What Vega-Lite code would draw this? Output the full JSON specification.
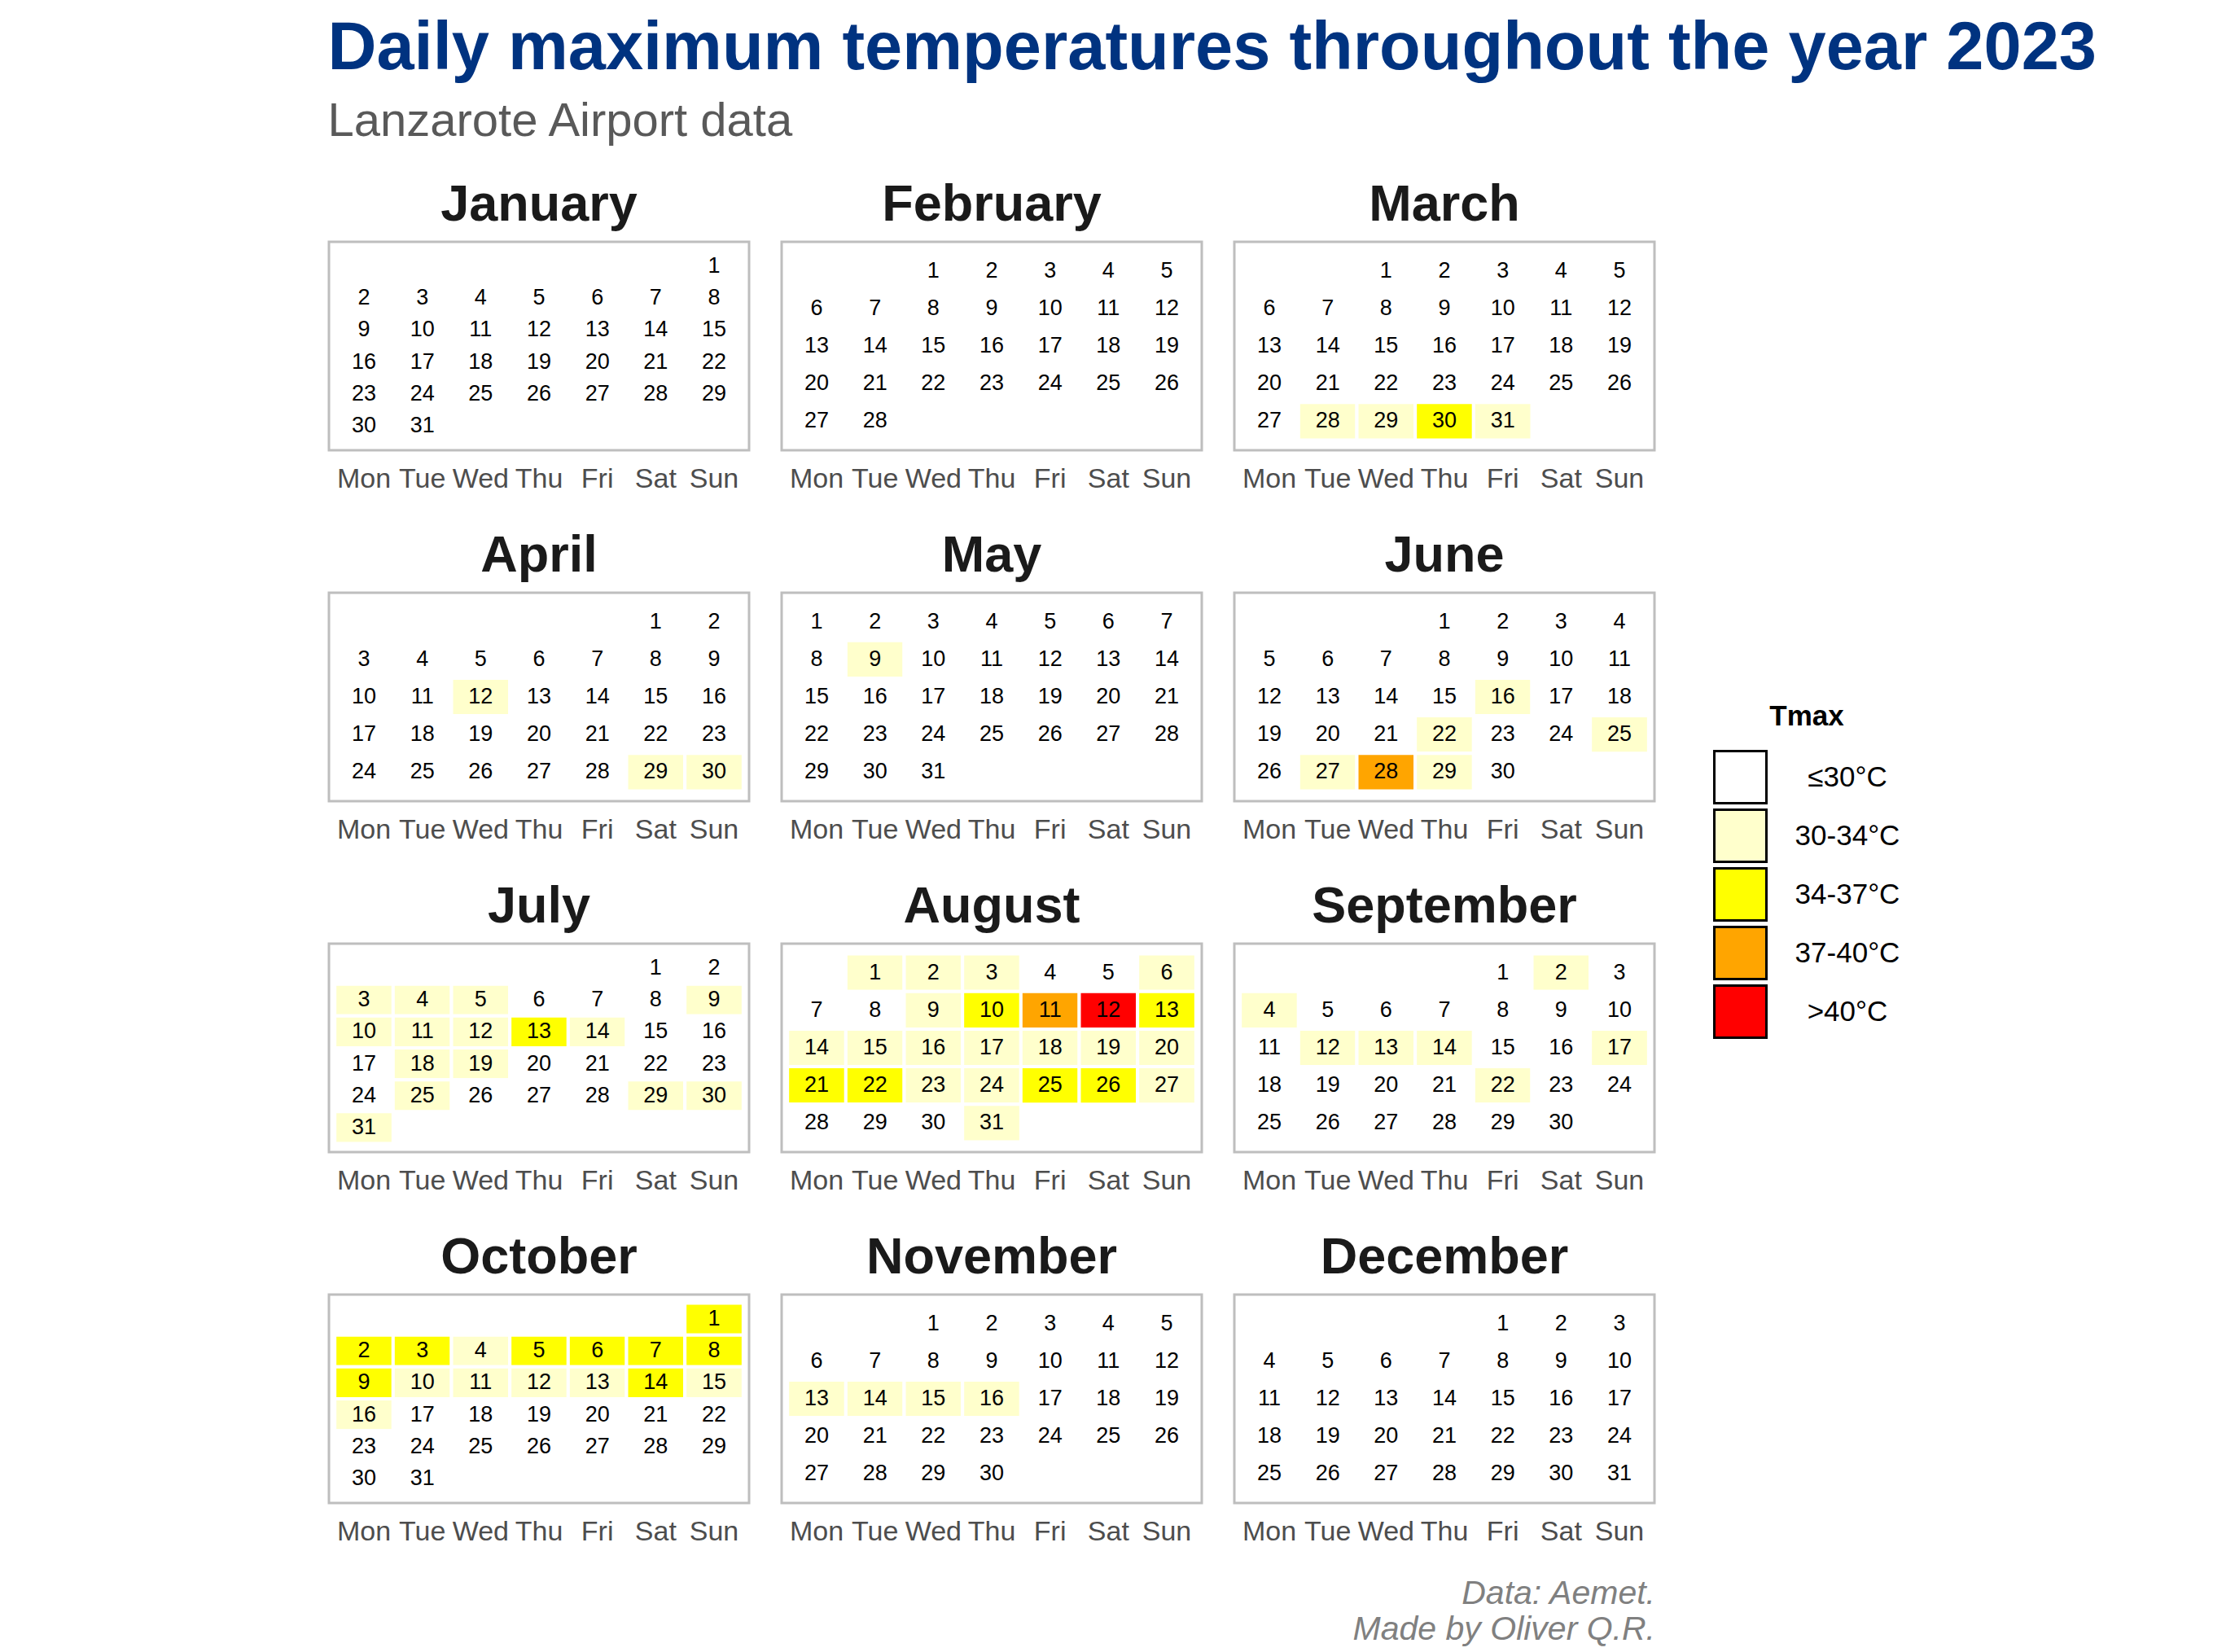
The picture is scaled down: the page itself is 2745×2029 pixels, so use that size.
{
"$schema":"https://vega.github.io/schema/vega-lite/v6.json",
"background":"white",
"padding":{"left":402,"top":18,"right":0,"bottom":0},
"title":{"text":"Daily maximum temperatures throughout the year 2023","subtitle":"Lanzarote Airport data","anchor":"start","fontSize":83,"fontWeight":"bold","color":"#003380","font":"Liberation Sans","subtitleFont":"Liberation Sans","subtitleFontSize":58,"subtitleColor":"#595959","subtitlePadding":19,"offset":41},
"datasets":{"cal":[
{"m":"January","d":1,"w":"Sun","r":1,"c":"≤30°C"},
{"m":"January","d":2,"w":"Mon","r":2,"c":"≤30°C"},
{"m":"January","d":3,"w":"Tue","r":2,"c":"≤30°C"},
{"m":"January","d":4,"w":"Wed","r":2,"c":"≤30°C"},
{"m":"January","d":5,"w":"Thu","r":2,"c":"≤30°C"},
{"m":"January","d":6,"w":"Fri","r":2,"c":"≤30°C"},
{"m":"January","d":7,"w":"Sat","r":2,"c":"≤30°C"},
{"m":"January","d":8,"w":"Sun","r":2,"c":"≤30°C"},
{"m":"January","d":9,"w":"Mon","r":3,"c":"≤30°C"},
{"m":"January","d":10,"w":"Tue","r":3,"c":"≤30°C"},
{"m":"January","d":11,"w":"Wed","r":3,"c":"≤30°C"},
{"m":"January","d":12,"w":"Thu","r":3,"c":"≤30°C"},
{"m":"January","d":13,"w":"Fri","r":3,"c":"≤30°C"},
{"m":"January","d":14,"w":"Sat","r":3,"c":"≤30°C"},
{"m":"January","d":15,"w":"Sun","r":3,"c":"≤30°C"},
{"m":"January","d":16,"w":"Mon","r":4,"c":"≤30°C"},
{"m":"January","d":17,"w":"Tue","r":4,"c":"≤30°C"},
{"m":"January","d":18,"w":"Wed","r":4,"c":"≤30°C"},
{"m":"January","d":19,"w":"Thu","r":4,"c":"≤30°C"},
{"m":"January","d":20,"w":"Fri","r":4,"c":"≤30°C"},
{"m":"January","d":21,"w":"Sat","r":4,"c":"≤30°C"},
{"m":"January","d":22,"w":"Sun","r":4,"c":"≤30°C"},
{"m":"January","d":23,"w":"Mon","r":5,"c":"≤30°C"},
{"m":"January","d":24,"w":"Tue","r":5,"c":"≤30°C"},
{"m":"January","d":25,"w":"Wed","r":5,"c":"≤30°C"},
{"m":"January","d":26,"w":"Thu","r":5,"c":"≤30°C"},
{"m":"January","d":27,"w":"Fri","r":5,"c":"≤30°C"},
{"m":"January","d":28,"w":"Sat","r":5,"c":"≤30°C"},
{"m":"January","d":29,"w":"Sun","r":5,"c":"≤30°C"},
{"m":"January","d":30,"w":"Mon","r":6,"c":"≤30°C"},
{"m":"January","d":31,"w":"Tue","r":6,"c":"≤30°C"},
{"m":"February","d":1,"w":"Wed","r":1,"c":"≤30°C"},
{"m":"February","d":2,"w":"Thu","r":1,"c":"≤30°C"},
{"m":"February","d":3,"w":"Fri","r":1,"c":"≤30°C"},
{"m":"February","d":4,"w":"Sat","r":1,"c":"≤30°C"},
{"m":"February","d":5,"w":"Sun","r":1,"c":"≤30°C"},
{"m":"February","d":6,"w":"Mon","r":2,"c":"≤30°C"},
{"m":"February","d":7,"w":"Tue","r":2,"c":"≤30°C"},
{"m":"February","d":8,"w":"Wed","r":2,"c":"≤30°C"},
{"m":"February","d":9,"w":"Thu","r":2,"c":"≤30°C"},
{"m":"February","d":10,"w":"Fri","r":2,"c":"≤30°C"},
{"m":"February","d":11,"w":"Sat","r":2,"c":"≤30°C"},
{"m":"February","d":12,"w":"Sun","r":2,"c":"≤30°C"},
{"m":"February","d":13,"w":"Mon","r":3,"c":"≤30°C"},
{"m":"February","d":14,"w":"Tue","r":3,"c":"≤30°C"},
{"m":"February","d":15,"w":"Wed","r":3,"c":"≤30°C"},
{"m":"February","d":16,"w":"Thu","r":3,"c":"≤30°C"},
{"m":"February","d":17,"w":"Fri","r":3,"c":"≤30°C"},
{"m":"February","d":18,"w":"Sat","r":3,"c":"≤30°C"},
{"m":"February","d":19,"w":"Sun","r":3,"c":"≤30°C"},
{"m":"February","d":20,"w":"Mon","r":4,"c":"≤30°C"},
{"m":"February","d":21,"w":"Tue","r":4,"c":"≤30°C"},
{"m":"February","d":22,"w":"Wed","r":4,"c":"≤30°C"},
{"m":"February","d":23,"w":"Thu","r":4,"c":"≤30°C"},
{"m":"February","d":24,"w":"Fri","r":4,"c":"≤30°C"},
{"m":"February","d":25,"w":"Sat","r":4,"c":"≤30°C"},
{"m":"February","d":26,"w":"Sun","r":4,"c":"≤30°C"},
{"m":"February","d":27,"w":"Mon","r":5,"c":"≤30°C"},
{"m":"February","d":28,"w":"Tue","r":5,"c":"≤30°C"},
{"m":"March","d":1,"w":"Wed","r":1,"c":"≤30°C"},
{"m":"March","d":2,"w":"Thu","r":1,"c":"≤30°C"},
{"m":"March","d":3,"w":"Fri","r":1,"c":"≤30°C"},
{"m":"March","d":4,"w":"Sat","r":1,"c":"≤30°C"},
{"m":"March","d":5,"w":"Sun","r":1,"c":"≤30°C"},
{"m":"March","d":6,"w":"Mon","r":2,"c":"≤30°C"},
{"m":"March","d":7,"w":"Tue","r":2,"c":"≤30°C"},
{"m":"March","d":8,"w":"Wed","r":2,"c":"≤30°C"},
{"m":"March","d":9,"w":"Thu","r":2,"c":"≤30°C"},
{"m":"March","d":10,"w":"Fri","r":2,"c":"≤30°C"},
{"m":"March","d":11,"w":"Sat","r":2,"c":"≤30°C"},
{"m":"March","d":12,"w":"Sun","r":2,"c":"≤30°C"},
{"m":"March","d":13,"w":"Mon","r":3,"c":"≤30°C"},
{"m":"March","d":14,"w":"Tue","r":3,"c":"≤30°C"},
{"m":"March","d":15,"w":"Wed","r":3,"c":"≤30°C"},
{"m":"March","d":16,"w":"Thu","r":3,"c":"≤30°C"},
{"m":"March","d":17,"w":"Fri","r":3,"c":"≤30°C"},
{"m":"March","d":18,"w":"Sat","r":3,"c":"≤30°C"},
{"m":"March","d":19,"w":"Sun","r":3,"c":"≤30°C"},
{"m":"March","d":20,"w":"Mon","r":4,"c":"≤30°C"},
{"m":"March","d":21,"w":"Tue","r":4,"c":"≤30°C"},
{"m":"March","d":22,"w":"Wed","r":4,"c":"≤30°C"},
{"m":"March","d":23,"w":"Thu","r":4,"c":"≤30°C"},
{"m":"March","d":24,"w":"Fri","r":4,"c":"≤30°C"},
{"m":"March","d":25,"w":"Sat","r":4,"c":"≤30°C"},
{"m":"March","d":26,"w":"Sun","r":4,"c":"≤30°C"},
{"m":"March","d":27,"w":"Mon","r":5,"c":"≤30°C"},
{"m":"March","d":28,"w":"Tue","r":5,"c":"30-34°C"},
{"m":"March","d":29,"w":"Wed","r":5,"c":"30-34°C"},
{"m":"March","d":30,"w":"Thu","r":5,"c":"34-37°C"},
{"m":"March","d":31,"w":"Fri","r":5,"c":"30-34°C"},
{"m":"April","d":1,"w":"Sat","r":1,"c":"≤30°C"},
{"m":"April","d":2,"w":"Sun","r":1,"c":"≤30°C"},
{"m":"April","d":3,"w":"Mon","r":2,"c":"≤30°C"},
{"m":"April","d":4,"w":"Tue","r":2,"c":"≤30°C"},
{"m":"April","d":5,"w":"Wed","r":2,"c":"≤30°C"},
{"m":"April","d":6,"w":"Thu","r":2,"c":"≤30°C"},
{"m":"April","d":7,"w":"Fri","r":2,"c":"≤30°C"},
{"m":"April","d":8,"w":"Sat","r":2,"c":"≤30°C"},
{"m":"April","d":9,"w":"Sun","r":2,"c":"≤30°C"},
{"m":"April","d":10,"w":"Mon","r":3,"c":"≤30°C"},
{"m":"April","d":11,"w":"Tue","r":3,"c":"≤30°C"},
{"m":"April","d":12,"w":"Wed","r":3,"c":"30-34°C"},
{"m":"April","d":13,"w":"Thu","r":3,"c":"≤30°C"},
{"m":"April","d":14,"w":"Fri","r":3,"c":"≤30°C"},
{"m":"April","d":15,"w":"Sat","r":3,"c":"≤30°C"},
{"m":"April","d":16,"w":"Sun","r":3,"c":"≤30°C"},
{"m":"April","d":17,"w":"Mon","r":4,"c":"≤30°C"},
{"m":"April","d":18,"w":"Tue","r":4,"c":"≤30°C"},
{"m":"April","d":19,"w":"Wed","r":4,"c":"≤30°C"},
{"m":"April","d":20,"w":"Thu","r":4,"c":"≤30°C"},
{"m":"April","d":21,"w":"Fri","r":4,"c":"≤30°C"},
{"m":"April","d":22,"w":"Sat","r":4,"c":"≤30°C"},
{"m":"April","d":23,"w":"Sun","r":4,"c":"≤30°C"},
{"m":"April","d":24,"w":"Mon","r":5,"c":"≤30°C"},
{"m":"April","d":25,"w":"Tue","r":5,"c":"≤30°C"},
{"m":"April","d":26,"w":"Wed","r":5,"c":"≤30°C"},
{"m":"April","d":27,"w":"Thu","r":5,"c":"≤30°C"},
{"m":"April","d":28,"w":"Fri","r":5,"c":"≤30°C"},
{"m":"April","d":29,"w":"Sat","r":5,"c":"30-34°C"},
{"m":"April","d":30,"w":"Sun","r":5,"c":"30-34°C"},
{"m":"May","d":1,"w":"Mon","r":1,"c":"≤30°C"},
{"m":"May","d":2,"w":"Tue","r":1,"c":"≤30°C"},
{"m":"May","d":3,"w":"Wed","r":1,"c":"≤30°C"},
{"m":"May","d":4,"w":"Thu","r":1,"c":"≤30°C"},
{"m":"May","d":5,"w":"Fri","r":1,"c":"≤30°C"},
{"m":"May","d":6,"w":"Sat","r":1,"c":"≤30°C"},
{"m":"May","d":7,"w":"Sun","r":1,"c":"≤30°C"},
{"m":"May","d":8,"w":"Mon","r":2,"c":"≤30°C"},
{"m":"May","d":9,"w":"Tue","r":2,"c":"30-34°C"},
{"m":"May","d":10,"w":"Wed","r":2,"c":"≤30°C"},
{"m":"May","d":11,"w":"Thu","r":2,"c":"≤30°C"},
{"m":"May","d":12,"w":"Fri","r":2,"c":"≤30°C"},
{"m":"May","d":13,"w":"Sat","r":2,"c":"≤30°C"},
{"m":"May","d":14,"w":"Sun","r":2,"c":"≤30°C"},
{"m":"May","d":15,"w":"Mon","r":3,"c":"≤30°C"},
{"m":"May","d":16,"w":"Tue","r":3,"c":"≤30°C"},
{"m":"May","d":17,"w":"Wed","r":3,"c":"≤30°C"},
{"m":"May","d":18,"w":"Thu","r":3,"c":"≤30°C"},
{"m":"May","d":19,"w":"Fri","r":3,"c":"≤30°C"},
{"m":"May","d":20,"w":"Sat","r":3,"c":"≤30°C"},
{"m":"May","d":21,"w":"Sun","r":3,"c":"≤30°C"},
{"m":"May","d":22,"w":"Mon","r":4,"c":"≤30°C"},
{"m":"May","d":23,"w":"Tue","r":4,"c":"≤30°C"},
{"m":"May","d":24,"w":"Wed","r":4,"c":"≤30°C"},
{"m":"May","d":25,"w":"Thu","r":4,"c":"≤30°C"},
{"m":"May","d":26,"w":"Fri","r":4,"c":"≤30°C"},
{"m":"May","d":27,"w":"Sat","r":4,"c":"≤30°C"},
{"m":"May","d":28,"w":"Sun","r":4,"c":"≤30°C"},
{"m":"May","d":29,"w":"Mon","r":5,"c":"≤30°C"},
{"m":"May","d":30,"w":"Tue","r":5,"c":"≤30°C"},
{"m":"May","d":31,"w":"Wed","r":5,"c":"≤30°C"},
{"m":"June","d":1,"w":"Thu","r":1,"c":"≤30°C"},
{"m":"June","d":2,"w":"Fri","r":1,"c":"≤30°C"},
{"m":"June","d":3,"w":"Sat","r":1,"c":"≤30°C"},
{"m":"June","d":4,"w":"Sun","r":1,"c":"≤30°C"},
{"m":"June","d":5,"w":"Mon","r":2,"c":"≤30°C"},
{"m":"June","d":6,"w":"Tue","r":2,"c":"≤30°C"},
{"m":"June","d":7,"w":"Wed","r":2,"c":"≤30°C"},
{"m":"June","d":8,"w":"Thu","r":2,"c":"≤30°C"},
{"m":"June","d":9,"w":"Fri","r":2,"c":"≤30°C"},
{"m":"June","d":10,"w":"Sat","r":2,"c":"≤30°C"},
{"m":"June","d":11,"w":"Sun","r":2,"c":"≤30°C"},
{"m":"June","d":12,"w":"Mon","r":3,"c":"≤30°C"},
{"m":"June","d":13,"w":"Tue","r":3,"c":"≤30°C"},
{"m":"June","d":14,"w":"Wed","r":3,"c":"≤30°C"},
{"m":"June","d":15,"w":"Thu","r":3,"c":"≤30°C"},
{"m":"June","d":16,"w":"Fri","r":3,"c":"30-34°C"},
{"m":"June","d":17,"w":"Sat","r":3,"c":"≤30°C"},
{"m":"June","d":18,"w":"Sun","r":3,"c":"≤30°C"},
{"m":"June","d":19,"w":"Mon","r":4,"c":"≤30°C"},
{"m":"June","d":20,"w":"Tue","r":4,"c":"≤30°C"},
{"m":"June","d":21,"w":"Wed","r":4,"c":"≤30°C"},
{"m":"June","d":22,"w":"Thu","r":4,"c":"30-34°C"},
{"m":"June","d":23,"w":"Fri","r":4,"c":"≤30°C"},
{"m":"June","d":24,"w":"Sat","r":4,"c":"≤30°C"},
{"m":"June","d":25,"w":"Sun","r":4,"c":"30-34°C"},
{"m":"June","d":26,"w":"Mon","r":5,"c":"≤30°C"},
{"m":"June","d":27,"w":"Tue","r":5,"c":"30-34°C"},
{"m":"June","d":28,"w":"Wed","r":5,"c":"37-40°C"},
{"m":"June","d":29,"w":"Thu","r":5,"c":"30-34°C"},
{"m":"June","d":30,"w":"Fri","r":5,"c":"≤30°C"},
{"m":"July","d":1,"w":"Sat","r":1,"c":"≤30°C"},
{"m":"July","d":2,"w":"Sun","r":1,"c":"≤30°C"},
{"m":"July","d":3,"w":"Mon","r":2,"c":"30-34°C"},
{"m":"July","d":4,"w":"Tue","r":2,"c":"30-34°C"},
{"m":"July","d":5,"w":"Wed","r":2,"c":"30-34°C"},
{"m":"July","d":6,"w":"Thu","r":2,"c":"≤30°C"},
{"m":"July","d":7,"w":"Fri","r":2,"c":"≤30°C"},
{"m":"July","d":8,"w":"Sat","r":2,"c":"≤30°C"},
{"m":"July","d":9,"w":"Sun","r":2,"c":"30-34°C"},
{"m":"July","d":10,"w":"Mon","r":3,"c":"30-34°C"},
{"m":"July","d":11,"w":"Tue","r":3,"c":"30-34°C"},
{"m":"July","d":12,"w":"Wed","r":3,"c":"30-34°C"},
{"m":"July","d":13,"w":"Thu","r":3,"c":"34-37°C"},
{"m":"July","d":14,"w":"Fri","r":3,"c":"30-34°C"},
{"m":"July","d":15,"w":"Sat","r":3,"c":"≤30°C"},
{"m":"July","d":16,"w":"Sun","r":3,"c":"≤30°C"},
{"m":"July","d":17,"w":"Mon","r":4,"c":"≤30°C"},
{"m":"July","d":18,"w":"Tue","r":4,"c":"30-34°C"},
{"m":"July","d":19,"w":"Wed","r":4,"c":"30-34°C"},
{"m":"July","d":20,"w":"Thu","r":4,"c":"≤30°C"},
{"m":"July","d":21,"w":"Fri","r":4,"c":"≤30°C"},
{"m":"July","d":22,"w":"Sat","r":4,"c":"≤30°C"},
{"m":"July","d":23,"w":"Sun","r":4,"c":"≤30°C"},
{"m":"July","d":24,"w":"Mon","r":5,"c":"≤30°C"},
{"m":"July","d":25,"w":"Tue","r":5,"c":"30-34°C"},
{"m":"July","d":26,"w":"Wed","r":5,"c":"≤30°C"},
{"m":"July","d":27,"w":"Thu","r":5,"c":"≤30°C"},
{"m":"July","d":28,"w":"Fri","r":5,"c":"≤30°C"},
{"m":"July","d":29,"w":"Sat","r":5,"c":"30-34°C"},
{"m":"July","d":30,"w":"Sun","r":5,"c":"30-34°C"},
{"m":"July","d":31,"w":"Mon","r":6,"c":"30-34°C"},
{"m":"August","d":1,"w":"Tue","r":1,"c":"30-34°C"},
{"m":"August","d":2,"w":"Wed","r":1,"c":"30-34°C"},
{"m":"August","d":3,"w":"Thu","r":1,"c":"30-34°C"},
{"m":"August","d":4,"w":"Fri","r":1,"c":"≤30°C"},
{"m":"August","d":5,"w":"Sat","r":1,"c":"≤30°C"},
{"m":"August","d":6,"w":"Sun","r":1,"c":"30-34°C"},
{"m":"August","d":7,"w":"Mon","r":2,"c":"≤30°C"},
{"m":"August","d":8,"w":"Tue","r":2,"c":"≤30°C"},
{"m":"August","d":9,"w":"Wed","r":2,"c":"30-34°C"},
{"m":"August","d":10,"w":"Thu","r":2,"c":"34-37°C"},
{"m":"August","d":11,"w":"Fri","r":2,"c":"37-40°C"},
{"m":"August","d":12,"w":"Sat","r":2,"c":">40°C"},
{"m":"August","d":13,"w":"Sun","r":2,"c":"34-37°C"},
{"m":"August","d":14,"w":"Mon","r":3,"c":"30-34°C"},
{"m":"August","d":15,"w":"Tue","r":3,"c":"30-34°C"},
{"m":"August","d":16,"w":"Wed","r":3,"c":"30-34°C"},
{"m":"August","d":17,"w":"Thu","r":3,"c":"30-34°C"},
{"m":"August","d":18,"w":"Fri","r":3,"c":"30-34°C"},
{"m":"August","d":19,"w":"Sat","r":3,"c":"30-34°C"},
{"m":"August","d":20,"w":"Sun","r":3,"c":"30-34°C"},
{"m":"August","d":21,"w":"Mon","r":4,"c":"34-37°C"},
{"m":"August","d":22,"w":"Tue","r":4,"c":"34-37°C"},
{"m":"August","d":23,"w":"Wed","r":4,"c":"30-34°C"},
{"m":"August","d":24,"w":"Thu","r":4,"c":"30-34°C"},
{"m":"August","d":25,"w":"Fri","r":4,"c":"34-37°C"},
{"m":"August","d":26,"w":"Sat","r":4,"c":"34-37°C"},
{"m":"August","d":27,"w":"Sun","r":4,"c":"30-34°C"},
{"m":"August","d":28,"w":"Mon","r":5,"c":"≤30°C"},
{"m":"August","d":29,"w":"Tue","r":5,"c":"≤30°C"},
{"m":"August","d":30,"w":"Wed","r":5,"c":"≤30°C"},
{"m":"August","d":31,"w":"Thu","r":5,"c":"30-34°C"},
{"m":"September","d":1,"w":"Fri","r":1,"c":"≤30°C"},
{"m":"September","d":2,"w":"Sat","r":1,"c":"30-34°C"},
{"m":"September","d":3,"w":"Sun","r":1,"c":"≤30°C"},
{"m":"September","d":4,"w":"Mon","r":2,"c":"30-34°C"},
{"m":"September","d":5,"w":"Tue","r":2,"c":"≤30°C"},
{"m":"September","d":6,"w":"Wed","r":2,"c":"≤30°C"},
{"m":"September","d":7,"w":"Thu","r":2,"c":"≤30°C"},
{"m":"September","d":8,"w":"Fri","r":2,"c":"≤30°C"},
{"m":"September","d":9,"w":"Sat","r":2,"c":"≤30°C"},
{"m":"September","d":10,"w":"Sun","r":2,"c":"≤30°C"},
{"m":"September","d":11,"w":"Mon","r":3,"c":"≤30°C"},
{"m":"September","d":12,"w":"Tue","r":3,"c":"30-34°C"},
{"m":"September","d":13,"w":"Wed","r":3,"c":"30-34°C"},
{"m":"September","d":14,"w":"Thu","r":3,"c":"30-34°C"},
{"m":"September","d":15,"w":"Fri","r":3,"c":"≤30°C"},
{"m":"September","d":16,"w":"Sat","r":3,"c":"≤30°C"},
{"m":"September","d":17,"w":"Sun","r":3,"c":"30-34°C"},
{"m":"September","d":18,"w":"Mon","r":4,"c":"≤30°C"},
{"m":"September","d":19,"w":"Tue","r":4,"c":"≤30°C"},
{"m":"September","d":20,"w":"Wed","r":4,"c":"≤30°C"},
{"m":"September","d":21,"w":"Thu","r":4,"c":"≤30°C"},
{"m":"September","d":22,"w":"Fri","r":4,"c":"30-34°C"},
{"m":"September","d":23,"w":"Sat","r":4,"c":"≤30°C"},
{"m":"September","d":24,"w":"Sun","r":4,"c":"≤30°C"},
{"m":"September","d":25,"w":"Mon","r":5,"c":"≤30°C"},
{"m":"September","d":26,"w":"Tue","r":5,"c":"≤30°C"},
{"m":"September","d":27,"w":"Wed","r":5,"c":"≤30°C"},
{"m":"September","d":28,"w":"Thu","r":5,"c":"≤30°C"},
{"m":"September","d":29,"w":"Fri","r":5,"c":"≤30°C"},
{"m":"September","d":30,"w":"Sat","r":5,"c":"≤30°C"},
{"m":"October","d":1,"w":"Sun","r":1,"c":"34-37°C"},
{"m":"October","d":2,"w":"Mon","r":2,"c":"34-37°C"},
{"m":"October","d":3,"w":"Tue","r":2,"c":"34-37°C"},
{"m":"October","d":4,"w":"Wed","r":2,"c":"30-34°C"},
{"m":"October","d":5,"w":"Thu","r":2,"c":"34-37°C"},
{"m":"October","d":6,"w":"Fri","r":2,"c":"34-37°C"},
{"m":"October","d":7,"w":"Sat","r":2,"c":"34-37°C"},
{"m":"October","d":8,"w":"Sun","r":2,"c":"34-37°C"},
{"m":"October","d":9,"w":"Mon","r":3,"c":"34-37°C"},
{"m":"October","d":10,"w":"Tue","r":3,"c":"30-34°C"},
{"m":"October","d":11,"w":"Wed","r":3,"c":"30-34°C"},
{"m":"October","d":12,"w":"Thu","r":3,"c":"30-34°C"},
{"m":"October","d":13,"w":"Fri","r":3,"c":"30-34°C"},
{"m":"October","d":14,"w":"Sat","r":3,"c":"34-37°C"},
{"m":"October","d":15,"w":"Sun","r":3,"c":"30-34°C"},
{"m":"October","d":16,"w":"Mon","r":4,"c":"30-34°C"},
{"m":"October","d":17,"w":"Tue","r":4,"c":"≤30°C"},
{"m":"October","d":18,"w":"Wed","r":4,"c":"≤30°C"},
{"m":"October","d":19,"w":"Thu","r":4,"c":"≤30°C"},
{"m":"October","d":20,"w":"Fri","r":4,"c":"≤30°C"},
{"m":"October","d":21,"w":"Sat","r":4,"c":"≤30°C"},
{"m":"October","d":22,"w":"Sun","r":4,"c":"≤30°C"},
{"m":"October","d":23,"w":"Mon","r":5,"c":"≤30°C"},
{"m":"October","d":24,"w":"Tue","r":5,"c":"≤30°C"},
{"m":"October","d":25,"w":"Wed","r":5,"c":"≤30°C"},
{"m":"October","d":26,"w":"Thu","r":5,"c":"≤30°C"},
{"m":"October","d":27,"w":"Fri","r":5,"c":"≤30°C"},
{"m":"October","d":28,"w":"Sat","r":5,"c":"≤30°C"},
{"m":"October","d":29,"w":"Sun","r":5,"c":"≤30°C"},
{"m":"October","d":30,"w":"Mon","r":6,"c":"≤30°C"},
{"m":"October","d":31,"w":"Tue","r":6,"c":"≤30°C"},
{"m":"November","d":1,"w":"Wed","r":1,"c":"≤30°C"},
{"m":"November","d":2,"w":"Thu","r":1,"c":"≤30°C"},
{"m":"November","d":3,"w":"Fri","r":1,"c":"≤30°C"},
{"m":"November","d":4,"w":"Sat","r":1,"c":"≤30°C"},
{"m":"November","d":5,"w":"Sun","r":1,"c":"≤30°C"},
{"m":"November","d":6,"w":"Mon","r":2,"c":"≤30°C"},
{"m":"November","d":7,"w":"Tue","r":2,"c":"≤30°C"},
{"m":"November","d":8,"w":"Wed","r":2,"c":"≤30°C"},
{"m":"November","d":9,"w":"Thu","r":2,"c":"≤30°C"},
{"m":"November","d":10,"w":"Fri","r":2,"c":"≤30°C"},
{"m":"November","d":11,"w":"Sat","r":2,"c":"≤30°C"},
{"m":"November","d":12,"w":"Sun","r":2,"c":"≤30°C"},
{"m":"November","d":13,"w":"Mon","r":3,"c":"30-34°C"},
{"m":"November","d":14,"w":"Tue","r":3,"c":"30-34°C"},
{"m":"November","d":15,"w":"Wed","r":3,"c":"30-34°C"},
{"m":"November","d":16,"w":"Thu","r":3,"c":"30-34°C"},
{"m":"November","d":17,"w":"Fri","r":3,"c":"≤30°C"},
{"m":"November","d":18,"w":"Sat","r":3,"c":"≤30°C"},
{"m":"November","d":19,"w":"Sun","r":3,"c":"≤30°C"},
{"m":"November","d":20,"w":"Mon","r":4,"c":"≤30°C"},
{"m":"November","d":21,"w":"Tue","r":4,"c":"≤30°C"},
{"m":"November","d":22,"w":"Wed","r":4,"c":"≤30°C"},
{"m":"November","d":23,"w":"Thu","r":4,"c":"≤30°C"},
{"m":"November","d":24,"w":"Fri","r":4,"c":"≤30°C"},
{"m":"November","d":25,"w":"Sat","r":4,"c":"≤30°C"},
{"m":"November","d":26,"w":"Sun","r":4,"c":"≤30°C"},
{"m":"November","d":27,"w":"Mon","r":5,"c":"≤30°C"},
{"m":"November","d":28,"w":"Tue","r":5,"c":"≤30°C"},
{"m":"November","d":29,"w":"Wed","r":5,"c":"≤30°C"},
{"m":"November","d":30,"w":"Thu","r":5,"c":"≤30°C"},
{"m":"December","d":1,"w":"Fri","r":1,"c":"≤30°C"},
{"m":"December","d":2,"w":"Sat","r":1,"c":"≤30°C"},
{"m":"December","d":3,"w":"Sun","r":1,"c":"≤30°C"},
{"m":"December","d":4,"w":"Mon","r":2,"c":"≤30°C"},
{"m":"December","d":5,"w":"Tue","r":2,"c":"≤30°C"},
{"m":"December","d":6,"w":"Wed","r":2,"c":"≤30°C"},
{"m":"December","d":7,"w":"Thu","r":2,"c":"≤30°C"},
{"m":"December","d":8,"w":"Fri","r":2,"c":"≤30°C"},
{"m":"December","d":9,"w":"Sat","r":2,"c":"≤30°C"},
{"m":"December","d":10,"w":"Sun","r":2,"c":"≤30°C"},
{"m":"December","d":11,"w":"Mon","r":3,"c":"≤30°C"},
{"m":"December","d":12,"w":"Tue","r":3,"c":"≤30°C"},
{"m":"December","d":13,"w":"Wed","r":3,"c":"≤30°C"},
{"m":"December","d":14,"w":"Thu","r":3,"c":"≤30°C"},
{"m":"December","d":15,"w":"Fri","r":3,"c":"≤30°C"},
{"m":"December","d":16,"w":"Sat","r":3,"c":"≤30°C"},
{"m":"December","d":17,"w":"Sun","r":3,"c":"≤30°C"},
{"m":"December","d":18,"w":"Mon","r":4,"c":"≤30°C"},
{"m":"December","d":19,"w":"Tue","r":4,"c":"≤30°C"},
{"m":"December","d":20,"w":"Wed","r":4,"c":"≤30°C"},
{"m":"December","d":21,"w":"Thu","r":4,"c":"≤30°C"},
{"m":"December","d":22,"w":"Fri","r":4,"c":"≤30°C"},
{"m":"December","d":23,"w":"Sat","r":4,"c":"≤30°C"},
{"m":"December","d":24,"w":"Sun","r":4,"c":"≤30°C"},
{"m":"December","d":25,"w":"Mon","r":5,"c":"≤30°C"},
{"m":"December","d":26,"w":"Tue","r":5,"c":"≤30°C"},
{"m":"December","d":27,"w":"Wed","r":5,"c":"≤30°C"},
{"m":"December","d":28,"w":"Thu","r":5,"c":"≤30°C"},
{"m":"December","d":29,"w":"Fri","r":5,"c":"≤30°C"},
{"m":"December","d":30,"w":"Sat","r":5,"c":"≤30°C"},
{"m":"December","d":31,"w":"Sun","r":5,"c":"≤30°C"}
]},
"vconcat":[
{
"data":{"name":"cal"},
"facet":{"field":"m","type":"ordinal","title":null,"sort":["January","February","March","April","May","June","July","August","September","October","November","December"],
  "header":{"labelFontSize":63,"labelFontWeight":"bold","labelColor":"#1a1a1a","labelFont":"Liberation Sans","labelPadding":13}},
"columns":3,
"spacing":{"row":43,"column":36},
"spec":{
  "width":516,"height":256,
  "layer":[
    {"mark":{"type":"rect","stroke":"white","strokeWidth":4},
     "encoding":{
       "x":{"field":"w","type":"ordinal","title":null,"scale":{"domain":["Mon","Tue","Wed","Thu","Fri","Sat","Sun"],"paddingInner":0,"paddingOuter":0.1}},
       "y":{"field":"r","type":"ordinal","axis":null,"scale":{"paddingInner":0,"paddingOuter":0.27}},
       "fill":{"field":"c","type":"nominal","title":"Tmax",
         "scale":{"domain":["≤30°C","30-34°C","34-37°C","37-40°C",">40°C"],"range":["#ffffff","#ffffcc","#ffff00","#ffa500","#ff0000"]},
         "legend":{"orient":"none","legendX":1700,"legendY":566,"symbolType":"square","symbolSize":4096,"symbolStrokeColor":"black","symbolStrokeWidth":3,"symbolOpacity":1,
           "labelFontSize":35,"labelColor":"black","labelFont":"Liberation Sans","labelAlign":"center","labelOffset":98,
           "titleFontSize":35,"titleFontWeight":"bold","titleColor":"black","titleFont":"Liberation Sans","titleAnchor":"middle","titlePadding":23,"rowPadding":-8.5,
           "encode":{"symbols":{"update":{"stroke":{"value":"black"},"strokeWidth":{"value":3}}}}}}
     }},
    {"mark":{"type":"text","fontSize":27,"color":"black","font":"Liberation Sans","baseline":"middle"},
     "encoding":{
       "x":{"field":"w","type":"ordinal","title":null,"scale":{"domain":["Mon","Tue","Wed","Thu","Fri","Sat","Sun"],"paddingInner":0,"paddingOuter":0.1}},
       "y":{"field":"r","type":"ordinal","axis":null,"scale":{"paddingInner":0,"paddingOuter":0.27}},
       "text":{"field":"d","type":"quantitative"}
     }}
  ]
},
"resolve":{"scale":{"y":"independent"},"axis":{"x":"independent"}}
},
{
"width":1629,"height":1,
"data":{"values":[{}]},
"mark":{"type":"text","text":""},
"view":{"stroke":null},
"title":{"text":["Data: Aemet.","Made by Oliver Q.R."],"anchor":"end","orient":"top","fontSize":41,"fontStyle":"italic","fontWeight":"normal","color":"#808080","font":"Liberation Sans","lineHeight":44,"offset":0}
}
],
"spacing":36,
"config":{
  "font":"Liberation Sans",
  "view":{"stroke":"#bebebe","strokeWidth":3},
  "axis":{"grid":false},
  "axisX":{"labelFontSize":34,"labelColor":"#4d4d4d","labelFont":"Liberation Sans","ticks":false,"domain":false,"labelPadding":18.5,"labelAngle":0,"labelOverlap":false,"labelBound":false,"labelFlush":false}
}
}
